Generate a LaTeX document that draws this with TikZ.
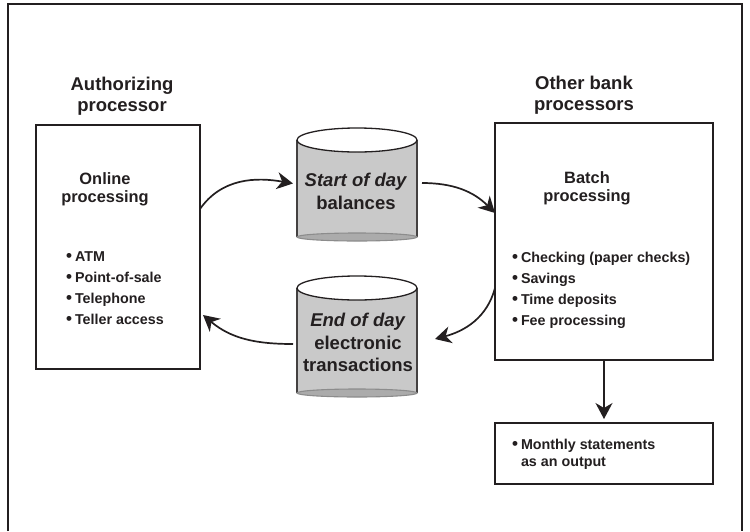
\documentclass[tikz,border=0pt]{standalone}
\usepackage{fontspec}
\setmainfont{Liberation Sans}
\usetikzlibrary{arrows.meta}
\definecolor{ink}{HTML}{231F20}
\definecolor{cylgray}{HTML}{C9C9C9}
\definecolor{cylrim}{HTML}{8C8C8C}
\newcommand\bul{\llap{{\fontsize{17}{17}\selectfont\textbullet}\kern3pt}}
\newcommand\drawcyl[1]{%
  \fill[cylgray] (#1.north west) rectangle (#1.south east);
  \draw[cylside] (#1.north west) -- (#1.south west) (#1.north east) -- (#1.south east);
  \draw[cylbottom] (#1.south) ellipse [x radius=60pt, y radius=4pt];
  \draw[cyltop] (#1.north) ellipse [x radius=60pt, y radius=12pt];
}
\begin{document}
\begin{tikzpicture}[x=1pt,y=-1pt,
  every node/.style={text=ink, inner sep=0pt, outer sep=0pt, font=\bfseries},
  frame/.style={draw=ink, line width=1.5pt},
  box/.style={draw=ink, line width=1.8pt, fill=white},
  cylbody/.style={minimum width=120pt},
  cylside/.style={draw=ink!85, line width=1.1pt},
  cylbottom/.style={draw=cylrim, fill=cylgray!85!black, line width=1.1pt},
  cyltop/.style={draw=ink, fill=white, line width=1.3pt},
  title/.style={align=center, anchor=north, font=\bfseries\fontsize{18.5}{20.5}\selectfont},
  subtitle/.style={align=center, anchor=north, font=\bfseries\fontsize{16.4}{18.5}\selectfont},
  cyltext/.style={align=center, anchor=north, font=\bfseries\fontsize{18.5}{22.5}\selectfont},
  blist/.style={align=left, anchor=north west, font=\bfseries\fontsize{14.3}{21}\selectfont},
  conn/.style={draw=ink, line width=1.7pt, -{Stealth[length=16pt,width=17pt,inset=5pt]}}
]
\useasboundingbox (0,0) rectangle (750,531);
% outer frame (open at the bottom)
\draw[frame] (8,531) -- (8,4) -- (742,4) -- (742,531);

% boxes
\node[box, minimum width=164pt, minimum height=244pt] (lb) at (118,247) {};
\node[box, minimum width=218pt, minimum height=237pt] (rb) at (604,241.5) {};
\node[box, minimum width=218pt, minimum height=61pt] (bb) at (604,453.5) {};

% cylinders
\node[cylbody, minimum height=97pt] (c1) at (357,188.5) {};
\node[cylbody, minimum height=105pt] (c2) at (357,340.5) {};
\drawcyl{c1}
\drawcyl{c2}

% titles
\node[title] (t1) at (122,77.5) {Authorizing\\processor};
\node[title] (t2) at (584,76.5) {Other bank\\processors};

% box texts
\node[subtitle] (on) at (105,172.3) {Online\\processing};
\node[subtitle] (bp) at (587,171.5) {Batch\\processing};
\node[blist] (l1) at (75,252) {\bul ATM\\\bul Point-of-sale\\\bul Telephone\\\bul Teller access};
\node[blist] (l2) at (521,252) {\bul Checking (paper checks)\\\bul Savings\\\bul Time deposits\\\bul Fee processing};
\node[blist, font=\bfseries\fontsize{14.3}{17}\selectfont] (l3) at (521,439) {\bul Monthly statements\\as an output};

% cylinder texts
\node[cyltext] (ct1) at (356,173.3) {\textit{Start of day}\\balances};
\node[cyltext] (ct2) at (358,313.3) {\textit{End of day}\\electronic\\transactions};

% connectors
\draw[conn] ([yshift=38pt]lb.east) to[out=55,in=170] ([xshift=-4pt,yshift=5pt]c1.west);
\draw[conn] ([xshift=5pt,yshift=5.5pt]c1.east) to[out=0,in=135] ([yshift=28.5pt]rb.west);
\draw[conn] ([yshift=-46.5pt]rb.west) to[out=-105,in=15] ([xshift=18pt,yshift=1.5pt]c2.east);
\draw[conn] ([xshift=-4pt,yshift=-3.5pt]c2.west) to[out=180,in=-40] ([xshift=3pt,yshift=-68pt]lb.east);
\draw[conn, line width=1.3pt, shorten >=4pt] (rb.south) -- (bb.north);
\end{tikzpicture}
\end{document}
